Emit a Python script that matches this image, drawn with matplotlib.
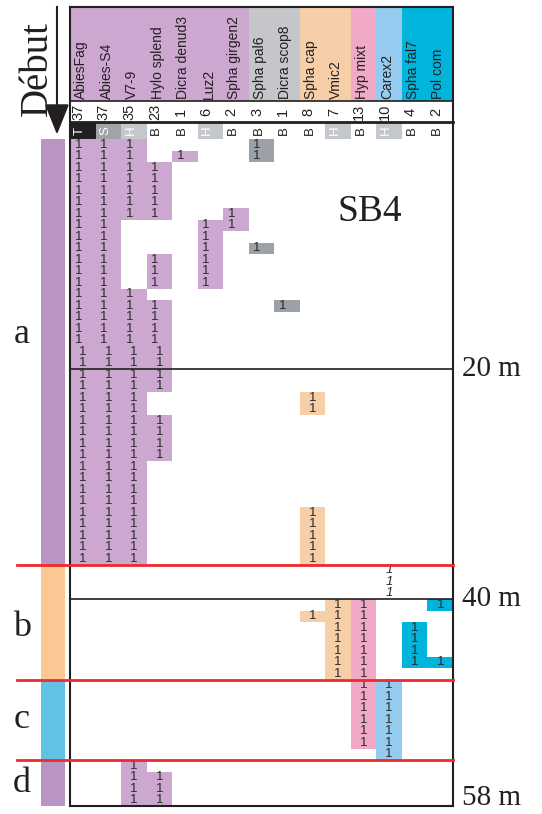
import matplotlib.pyplot as plt

# espèces (colonnes), effectifs et types
species = ["AbiesFag", "Abies-S4", "V7-9", "Hylo splend", "Dicra denud3", "Luz2",
           "Spha girgen2", "Spha pal6", "Dicra scop8", "Spha cap", "Vmic2",
           "Hyp mixt", "Carex2", "Spha fal7", "Pol com"]
counts = [37, 37, 35, 23, 1, 6, 2, 3, 1, 8, 7, 13, 10, 4, 2]
types = ["T", "S", "H", "B", "B", "H", "B", "B", "B", "B", "H", "B", "H", "B", "B"]

# présence par mètre : suites (début, fin exclue)
runs = [
    [(0, 37)],
    [(0, 37)],
    [(0, 7), (13, 37), (54, 58)],
    [(2, 7), (10, 13), (14, 22), (24, 28), (55, 58)],
    [(1, 2)],
    [(7, 13)],
    [(6, 8)],
    [(0, 2), (9, 10)],
    [(14, 15)],
    [(22, 24), (32, 37), (41, 42)],
    [(40, 47)],
    [(40, 53)],
    [(47, 54)],
    [(42, 46)],
    [(40, 41), (45, 46)],
]
# présences non colorées (italique) : colonne Carex2
loose_col = 12
loose_rows = [37, 38, 39]

header_colors = ["#cca8d1"] * 7 + ["#c4c6ca"] * 2 + ["#f6cfa9"] * 2 + \
                ["#f1a9c8", "#94cbee", "#00b4dc", "#00b4dc"]
cell_colors = ["#cca8d1"] * 7 + ["#9ba1a6"] * 2 + ["#f6cfa9"] * 2 + \
              ["#f1a9c8", "#94cbee", "#00b4dc", "#00b4dc"]
type_colors = {"T": "#231f20", "S": "#a0a4a8", "H": "#c4c7cc"}

# zones
zones = ["a", "b", "c", "d"]
zone_start = [0, 37, 47, 54]
zone_end = [37, 47, 54, 58]
zone_colors = ["#b995c4", "#fbc893", "#62c2e4", "#b995c4"]
zone_label_y = [17, 42.5, 50.5, 56]

depth_ticks = [20, 40, 58]
depth_labels = ["20 m", "40 m", "58 m"]

ncol = len(species)
top = -11.48
head_bot = -3.3
count_bot = -1.48
bottom = 58

fig = plt.figure(figsize=(5.42, 8.14), dpi=100)
ax = fig.add_axes([70 / 542, 8 / 814, 383 / 542, 799 / 814])
ax.set_xlim(0, ncol)
ax.set_ylim(bottom, top)
ax.axis("off")

sans = "Liberation Sans"
serif = "Liberation Serif"

# en-têtes
for i, name in enumerate(species):
    ax.bar(i + 0.5, head_bot - top, bottom=top, width=1, color=header_colors[i], lw=0)
    ax.text(i + 0.43, head_bot - 0.15, name, rotation=90, ha="center", va="bottom",
            fontsize=10, family=sans, color="#231f20")
    ax.text(i + 0.33, (head_bot + count_bot) / 2, str(counts[i]), rotation=90,
            ha="center", va="center", fontsize=10.5, family=sans, color="#231f20")
    t = types[i]
    if t in type_colors:
        ax.bar(i + 0.5, -count_bot, bottom=count_bot, width=1, color=type_colors[t], lw=0)
        tc = "white"
    else:
        tc = "#231f20"
    ax.text(i + 0.38, count_bot / 2, t, rotation=90, ha="center", va="center",
            fontsize=9.5, family=sans, color=tc)

# cellules
for i, rr in enumerate(runs):
    for a, b in rr:
        for r in range(a, b):
            ax.bar(i + 0.5, 1, bottom=r, width=1, color=cell_colors[i], lw=0)
            if r < 18:
                ax.text(i + 0.18, r + 0.5, "1", ha="left", va="center",
                        fontsize=9.5, family=sans, color="#2b2b2b")
            else:
                ax.text(i + 0.5, r + 0.5, "1", ha="center", va="center",
                        fontsize=9.5, family=sans, color="#2b2b2b")
for r in loose_rows:
    ax.text(loose_col + 0.5, r + 0.5, "1", ha="center", va="center", fontsize=9.5,
            family=sans, style="italic", color="#2b2b2b")

# cadre
kw = dict(color="#231f20", lw=1.5, clip_on=False)
ax.plot([0, 0], [top, bottom], **kw)
ax.plot([ncol, ncol], [top, bottom], **kw)
ax.plot([0, ncol], [top, top], **kw)
ax.plot([0, ncol], [bottom, bottom], **kw)
ax.plot([0, ncol], [head_bot, head_bot], color="#231f20", lw=1.2, clip_on=False)
ax.plot([0, ncol], [count_bot, count_bot], color="#231f20", lw=2, clip_on=False)
for d in depth_ticks[:2]:
    ax.plot([0, ncol], [d, d], color="#231f20", lw=1.2, clip_on=False)

# profondeurs
for d, lab in zip(depth_ticks, depth_labels):
    yy = d if d < 58 else 57.3
    ax.text(ncol + 0.35, yy, lab, ha="left", va="center", fontsize=21,
            family=serif, color="#231f20", clip_on=False)

# bande des zones
for z, s, e, c, ly in zip(zones, zone_start, zone_end, zone_colors, zone_label_y):
    ax.bar(-0.666, e - s, bottom=s, width=0.94, color=c, lw=0, clip_on=False)
    ax.text(-1.88, ly, z, ha="center", va="center", fontsize=26, family=serif,
            color="#231f20", clip_on=False)
for s in zone_start[1:]:
    ax.plot([-2.08, ncol], [s, s], color="#ee2a2e", lw=2, clip_on=False, zorder=5)

# Début + flèche
ax.text(-1.27, -6.1, "Début", rotation=90, ha="center", va="center", fontsize=28,
        family=serif, color="#231f20", clip_on=False)
ax.annotate("", xy=(-0.51, -0.15), xytext=(-0.51, -11.75),
            arrowprops=dict(arrowstyle="-|>,head_length=0.95,head_width=0.38",
                            mutation_scale=20, lw=1.5, color="#231f20"),
            annotation_clip=False)

ax.text(11.75, 6.35, "SB4", ha="center", va="center", fontsize=27, family=serif,
        color="#231f20")

plt.savefig("out.png", dpi=100)
